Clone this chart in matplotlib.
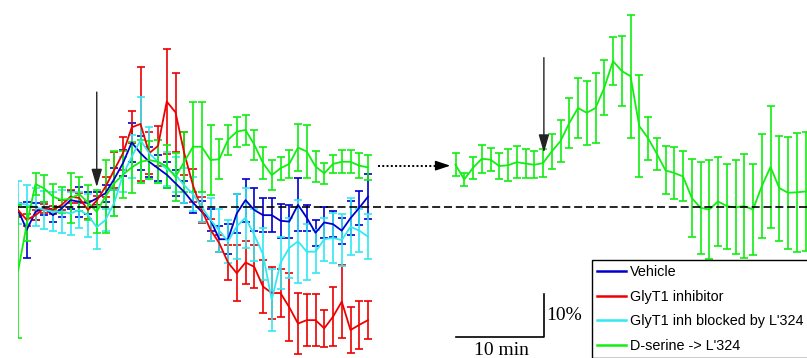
import numpy as np
import matplotlib.pyplot as plt

# time in minutes (one point per minute), values in % change from baseline
t_left = np.arange(0, 41)
t_right = np.arange(50, 91)

vehicle = [-0.7, -5.3, -1.1, -0.3, -1.9, -0.3, 1.6, 1.2, 0.9, 2.0,
           3.2, 6.5, 10.2, 15.0, 12.5, 10.5, 9.0, 7.5, 5.5, 3.5, 1.0, -1.1,
           -3.0, -7.5, -7.5, -1.5, 1.6, -0.7, -1.9, -1.9, -3.2, -3.4, 0.5, -2.5,
           -6.0, -3.6, -4.0, -5.5, -2.6, -0.2, 2.4]
vehicle_err = [1.5, 6.5, 2.0, 1.5, 1.5, 2.0, 2.0, 3.5, 2.5, 1.5,
               2.0, 2.5, 3.0, 4.5, 4.0, 3.5, 3.0, 3.0, 3.0, 2.5, 2.5, 2.5,
               2.5, 3.0, 3.5, 4.5, 5.0, 5.0, 4.0, 4.0, 3.9, 3.9, 6.2, 3.0,
               3.0, 3.5, 3.0, 3.0, 4.0, 3.9, 5.2]

glyt1 = [-0.7, -3.0, -1.9, -0.3, -0.7, 0.5, 2.4, 2.1, -0.7, 1.5,
         4.7, 8.6, 12.5, 18.5, 19.3, 12.5, 14.2, 24.5, 22.0, 12.5, 5.0, -0.7,
         -5.3, -8.4, -12.9, -15.4, -12.9, -13.9, -18.5, -20.0, -20.0, -23.3, -27.1, -26.3,
         -26.3, -28.2, -25.5, -22.0, -28.6, -27.4, -26.3]
glyt1_err = [1.6, 1.4, 1.2, 1.0, 1.0, 1.2, 1.5, 1.2, 2.0, 1.0,
             2.3, 4.1, 3.8, 3.7, 13.2, 4.9, 4.7, 12.3, 9.2, 5.0, 3.9, 3.0,
             2.5, 2.0, 4.1, 6.5, 5.0, 5.0, 6.2, 6.0, 5.5, 7.9, 7.0, 6.0,
             6.0, 4.3, 6.8, 8.5, 5.4, 5.6, 4.5]

blocked = [1.0, 0.5, 0.0, -0.7, -1.1, -1.1, -1.5, -0.7, -1.9, -4.7,
           -3.0, 1.0, 7.5, 11.7, 15.5, 12.5, 10.5, 8.8, 7.5, 5.0, 3.0, 0.0,
           -3.0, -5.5, -8.0, -4.5, -2.5, -6.5, -11.0, -21.6, -13.0, -9.5, -8.0, -10.4,
           -10.4, -7.5, -7.2, -7.7, -4.6, -5.5, -6.9]
blocked_err = [5.0, 4.5, 4.5, 4.5, 4.5, 5.0, 5.0, 4.2, 5.0, 5.0,
               2.5, 3.0, 4.0, 5.0, 10.0, 6.0, 5.0, 4.0, 4.0, 4.0, 4.0, 3.5,
               5.0, 5.0, 5.0, 7.5, 7.0, 6.0, 6.0, 7.2, 6.0, 7.0, 9.7, 6.5,
               5.0, 5.0, 5.8, 6.0, 6.6, 5.0, 5.2]

dser = [-15.0, -4.0, 5.3, 4.3, 2.4, 1.6, 2.0, 3.0, 1.0, -1.1,
        2.5, 5.5, 7.5, 9.2, 10.5, 10.9, 10.5, 9.4, 7.0, 10.5, 14.0, 14.0,
        10.9, 11.1, 15.6, 17.5, 17.9, 14.5, 10.2, 7.4, 9.0, 10.0, 13.8, 12.9,
        9.4, 7.8, 10.0, 10.5, 10.5, 9.6, 9.2]
dser_err = [15.5, 4.0, 2.6, 3.1, 3.0, 3.0, 5.8, 4.0, 4.0, 5.0,
            8.5, 7.5, 5.5, 6.0, 5.0, 4.5, 5.0, 5.0, 5.5, 7.0, 10.5, 10.5,
            8.2, 4.7, 3.5, 3.5, 3.5, 3.5, 3.7, 3.5, 2.7, 3.3, 5.4, 6.2,
            3.5, 2.5, 2.0, 2.7, 2.7, 2.9, 2.9]

# D-serine followed by L'324 (right block)
dser2 = [9.8, 6.4, 9.1, 11.2, 11.0, 9.5, 9.7, 10.4, 10.1, 9.8, 10.2, 12.9,
         15.3, 19.5, 23.0, 21.9, 23.0, 27.7, 33.9, 31.6, 30.4, 18.8, 16.0, 12.4,
         8.5, 7.9, 7.1, 2.1, -0.2, -0.6, 1.3, 0.2, -0.1, 0.2, -0.6, 4.8,
         9.3, 4.4, 3.3, 3.4, 3.6]
dser2_err = [2.7, 1.6, 2.5, 3.3, 2.7, 3.1, 3.7, 3.7, 3.3, 3.1, 3.2, 4.1,
             4.8, 5.8, 7.0, 7.4, 8.1, 6.4, 5.5, 8.1, 14.3, 11.8, 5.0, 3.7,
             5.6, 6.0, 5.8, 9.1, 10.7, 11.4, 10.3, 9.9, 10.9, 12.0, 10.5, 12.1,
             14.1, 12.2, 13.0, 13.8, 13.9]

labels = ['Vehicle', 'GlyT1 inhibitor', "GlyT1 inh blocked by L'324", "D-serine -> L'324"]
colors = ['#0000cc', '#ee0000', '#33e8f2', '#11ee11']

fig = plt.figure(figsize=(8.07, 3.58), dpi=100)
ax = fig.add_axes([18/807, 0, 789/807, 1])
ax.set_xlim(0, 90.17)
ax.set_ylim(-35.1, 48.1)
ax.axis('off')

kw = dict(lw=1.3, elinewidth=1.2, capsize=3, capthick=1.2)
handles = []
for m, e, c in zip([vehicle, glyt1, blocked, dser],
                   [vehicle_err, glyt1_err, blocked_err, dser_err], colors):
    eb = ax.errorbar(t_left, m, yerr=e, color=c, **kw)
    handles.append(eb[0])
ax.errorbar(t_right, dser2, yerr=dser2_err, color=colors[3], **kw)

# baseline
ax.axhline(0, color='k', lw=1.2, ls=(0, (4.8, 2.3)), zorder=5)

# drug application arrows
head = dict(arrowstyle='-|>,head_length=1.1,head_width=0.32', color='#222222',
            lw=1.0, shrinkA=0, shrinkB=0, mutation_scale=10)
ax.annotate('', xy=(9.0, 4.6), xytext=(9.0, 26.7), arrowprops=head)
ax.annotate('', xy=(60.1, 12.6), xytext=(60.1, 34.7), arrowprops=head)

# dotted link between the two blocks
ax.plot([41.1, 48.6], [9.6, 9.6], color='k', lw=1.4, ls=(0, (1, 1.2)))
ax.annotate('', xy=(49.4, 9.6), xytext=(48.5, 9.6),
            arrowprops=dict(arrowstyle='-|>,head_length=0.9,head_width=0.3',
                            color='k', lw=1.0, shrinkA=0, shrinkB=0, mutation_scale=10))

# scale bar
ax.plot([50.1, 60.1, 60.1], [-30.2, -30.2, -20.2], color='k', lw=1.2)
ax.text(60.35, -26.3, '10%', family='Liberation Serif', size=14, va='baseline')
ax.text(55.2, -34.3, '10 min', family='Liberation Serif', size=14,
        ha='center', va='baseline')

leg = ax.legend(handles, labels, loc='upper left',
                bbox_to_anchor=(592/807, 1 - 260/358), bbox_transform=fig.transFigure,
                fancybox=False, framealpha=1, edgecolor='k', borderaxespad=0,
                borderpad=0.35, handlelength=2.0, handletextpad=0.3, labelspacing=0.74,
                prop={'family': 'Liberation Sans', 'size': 10.4})
leg.get_frame().set_linewidth(1.0)
for ln in leg.get_lines():
    ln.set_linewidth(1.8)

fig.savefig('out.png', dpi=100)
